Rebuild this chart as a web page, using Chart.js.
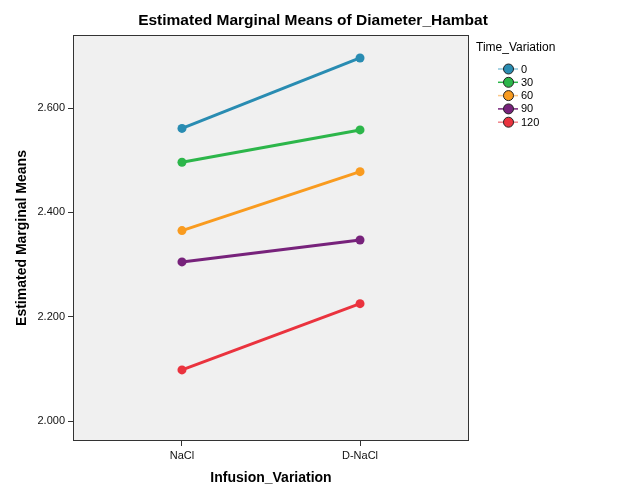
<!DOCTYPE html>
<html>
<head>
<meta charset="utf-8">
<script src="https://cdn.jsdelivr.net/npm/chart.js@4"></script>
<style>
html,body{margin:0;padding:0;background:#fff;}
#wrap{width:626px;height:501px;}
</style>
</head>
<body>
<div id="wrap"><canvas id="c" width="626" height="501"></canvas></div>
<script>
const categories = ['NaCl', 'D-NaCl'];
const timeLabels = ['0', '30', '60', '90', '120'];
const series0 = [2.561, 2.696];
const series30 = [2.496, 2.558];
const series60 = [2.365, 2.478];
const series90 = [2.305, 2.347];
const series120 = [2.098, 2.225];
const yTicks = [2.0, 2.2, 2.4, 2.6];
const colors = ['#298cb2', '#2cb64a', '#f99b1f', '#77227b', '#ea333e'];
const legendLineColors = ['#8cc6db', '#2cb64a', '#fbc98a', '#77227b', '#f0878e'];

const allSeries = [series0, series30, series60, series90, series120];

const FONT = 'Liberation Sans, Arial, sans-serif';
Chart.defaults.font.family = FONT;
Chart.defaults.color = '#111';

const datasets = allSeries.map((s, i) => ({
  label: timeLabels[i],
  data: s.map((v, j) => ({x: j + 1, y: v})),
  borderColor: colors[i],
  backgroundColor: colors[i],
  pointBackgroundColor: colors[i],
  pointBorderColor: colors[i],
  borderWidth: 3,
  pointRadius: 4.5,
  pointBorderWidth: 0,
  tension: 0
}));

const framePlugin = {
  id: 'frame',
  beforeDraw(chart) {
    const {ctx, chartArea: a} = chart;
    ctx.save();
    ctx.fillStyle = '#f0f0f0';
    ctx.fillRect(a.left, a.top, a.right - a.left, a.bottom - a.top);
    ctx.restore();
  },
  afterDraw(chart) {
    const {ctx, chartArea: a} = chart;
    ctx.save();
    ctx.strokeStyle = '#333';
    ctx.lineWidth = 1;
    ctx.strokeRect(Math.round(a.left) + 0.5, Math.round(a.top) + 0.5, Math.round(a.right - a.left) - 1, Math.round(a.bottom - a.top) - 1);
    // title
    ctx.fillStyle = '#000';
    ctx.font = 'bold 15.5px ' + FONT;
    ctx.textAlign = 'center';
    ctx.textBaseline = 'middle';
    ctx.fillText('Estimated Marginal Means of Diameter_Hambat', 313, 21);
    // legend
    ctx.textAlign = 'left';
    ctx.font = '12px ' + FONT;
    ctx.fillText('Time_Variation', 476, 48);
    ctx.font = '11px ' + FONT;
    timeLabels.forEach((lab, i) => {
      const y = 69 + i * 13.3;
      ctx.strokeStyle = legendLineColors[i];
      ctx.lineWidth = 1.5;
      ctx.beginPath();
      ctx.moveTo(498, y);
      ctx.lineTo(518, y);
      ctx.stroke();
      ctx.beginPath();
      ctx.arc(508.5, y, 5, 0, Math.PI * 2);
      ctx.fillStyle = colors[i];
      ctx.fill();
      ctx.strokeStyle = '#222';
      ctx.lineWidth = 1;
      ctx.stroke();
      ctx.fillStyle = '#000';
      ctx.fillText(lab, 521, y + 0.5);
    });
    ctx.restore();
  }
};

new Chart(document.getElementById('c'), {
  type: 'line',
  data: {datasets},
  options: {
    responsive: false,
    animation: false,
    devicePixelRatio: 1,
    layout: {padding: {left: 0, top: 35, right: 157, bottom: 0}},
    plugins: {legend: {display: false}, tooltip: {enabled: false}, title: {display: false}},
    scales: {
      x: {
        type: 'linear',
        min: 0.388,
        max: 2.612,
        afterBuildTicks: (s) => { s.ticks = categories.map((c, i) => ({value: i + 1})); },
        afterFit: (s) => { s.height = 60; },
        ticks: {
          callback: (v) => categories[v - 1] || '',
          font: {size: 11},
          color: '#111',
          padding: 3,
          maxRotation: 0,
          autoSkip: false
        },
        grid: {drawOnChartArea: false, drawTicks: true, tickLength: 5, tickColor: '#333', tickWidth: 1},
        border: {display: false},
        title: {display: true, text: 'Infusion_Variation', font: {size: 14, weight: 'bold'}, color: '#000', padding: {top: 0, bottom: 14}}
      },
      y: {
        type: 'linear',
        min: 1.9617,
        max: 2.740,
        afterBuildTicks: (s) => { s.ticks = yTicks.map(v => ({value: v})); },
        afterFit: (s) => { s.width = 73; },
        ticks: {
          callback: (v) => Number(v).toFixed(3),
          font: {size: 11},
          color: '#111',
          padding: 3
        },
        grid: {drawOnChartArea: false, drawTicks: true, tickLength: 5, tickColor: '#333', tickWidth: 1},
        border: {display: false},
        title: {display: true, text: 'Estimated Marginal Means', font: {size: 14, weight: 'bold'}, color: '#000', padding: {top: 14, bottom: 0}}
      }
    }
  },
  plugins: [framePlugin]
});
</script>
</body>
</html>
